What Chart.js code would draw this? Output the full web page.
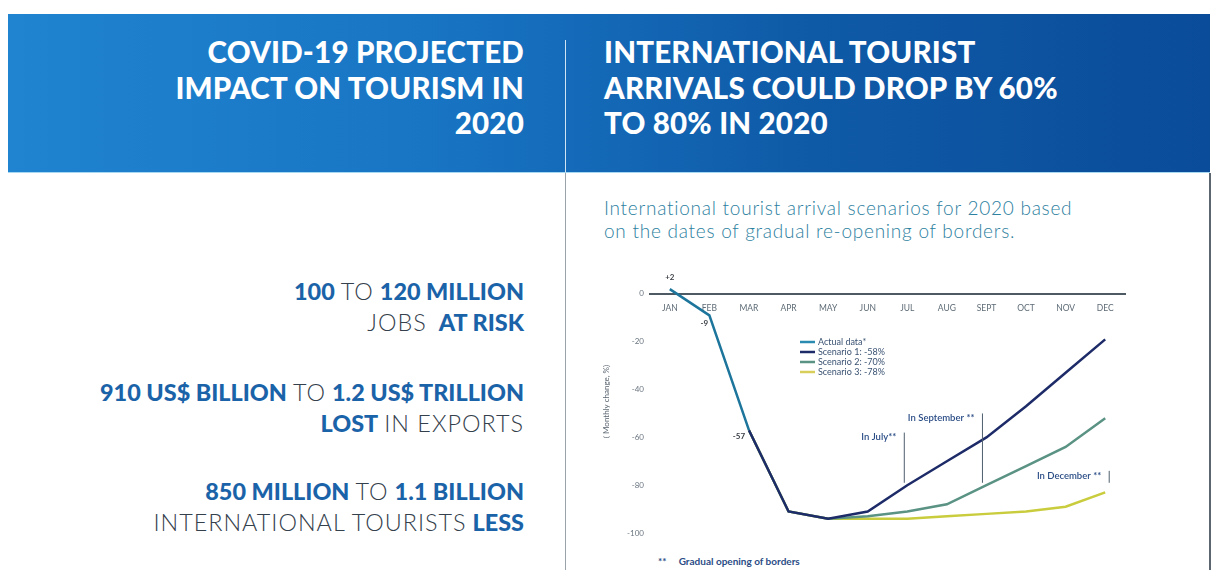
<!DOCTYPE html>
<html><head><meta charset="utf-8">
<script src="https://cdn.jsdelivr.net/npm/chart.js@4.4.1/dist/chart.umd.min.js"></script>
<style>
html,body{margin:0;padding:0;background:#fff;width:1212px;height:570px;overflow:hidden;font-family:Lato,'Open Sans',sans-serif;}
#header{position:absolute;left:8px;top:14px;width:1202px;height:158px;background:linear-gradient(90deg,#2084d0 0%,#1875c4 35%,#0f5ba8 65%,#0a4c99 100%);border-bottom:1px solid #a6d8f2;}
.ht{position:absolute;top:34px;color:#fff;font-weight:900;font-size:29.5px;line-height:35.5px;letter-spacing:0.2px;white-space:nowrap;}
#hl{right:688px;text-align:right;}
#hr{left:604px;text-align:left;}
#divh{position:absolute;left:565px;top:40px;width:1px;height:132px;background:#cfe3f3;}
#divb{position:absolute;left:565px;top:173px;width:1px;height:397px;background:#9aa3aa;}
#rb{position:absolute;left:1209px;top:173px;width:2px;height:397px;background:#5c6670;}
#sub{position:absolute;left:604px;top:196px;color:#2c80a0;font-weight:300;font-size:19px;line-height:23px;letter-spacing:0.75px;white-space:nowrap;}
.st{position:absolute;right:688px;text-align:right;font-size:23.4px;line-height:31px;white-space:nowrap;}
.b{font-weight:900;color:#1b63a8;}
.r{font-weight:300;color:#34404c;letter-spacing:1px;}
#foot{position:absolute;left:658px;top:555px;font-size:10px;font-weight:700;color:#2b4c86;white-space:nowrap;}
#wrap{position:absolute;left:0;top:0;width:1212px;height:570px;}
</style></head>
<body>
<div id="header"></div>
<div id="divh"></div><div id="divb"></div><div id="rb"></div>
<div class="ht" id="hl">COVID-19 PROJECTED<br>IMPACT ON TOURISM IN<br>2020</div>
<div class="ht" id="hr">INTERNATIONAL TOURIST<br>ARRIVALS COULD DROP BY 60%<br>TO 80% IN 2020</div>
<div id="sub">International tourist arrival scenarios for 2020 based<br>on the dates of gradual re-opening of borders.</div>
<div class="st" style="top:276px"><span class="b">100</span> <span class="r">TO</span> <span class="b">120 MILLION</span><br><span class="r">JOBS</span>&nbsp; <span class="b">AT RISK</span></div>
<div class="st" style="top:377px"><span class="b">910 US$ BILLION</span> <span class="r">TO</span> <span class="b">1.2 US$ TRILLION</span><br><span class="b">LOST</span> <span class="r">IN EXPORTS</span></div>
<div class="st" style="top:476px"><span class="b">850 MILLION</span> <span class="r">TO</span> <span class="b">1.1 BILLION</span><br><span class="r">INTERNATIONAL TOURISTS</span> <span class="b">LESS</span></div>
<div id="foot">**&nbsp;&nbsp;&nbsp;&nbsp; Gradual opening of borders</div>
<div id="wrap"><canvas id="c"></canvas></div>
<script>
const months = ['JAN','FEB','MAR','APR','MAY','JUN','JUL','AUG','SEPT','OCT','NOV','DEC'];
const actualData = [2, -9, -57, null, null, null, null, null, null, null, null, null];
const scenario1 = [null, null, -57, -91, -94, -91, -80, -70, -60, -47, -33, -19];
const scenario2 = [null, null, -57, -91, -94, -93, -91, -88, -80, -72, -64, -52];
const scenario3 = [null, null, -57, -91, -94, -94, -94, -93, -92, -91, -89, -83];
const seriesNames = ['Actual data*', 'Scenario 1: -58%', 'Scenario 2: -70%', 'Scenario 3: -78%'];
const seriesColors = ['#1d759c', '#1d2b68', '#5a9283', '#c9cc3c'];
const legendColors = ['#2a8ab0', '#1d2b68', '#5a9283', '#d8cf5a'];
const yTicks = [0, -20, -40, -60, -80, -100];
const pointLabels = [{i:0, text:'+2'}, {i:1, text:'-9'}, {i:2, text:'-57'}];
const reopenings = [
  {i:6, text:'In July**', top:-58, bottom:-79, textY:-60},
  {i:8, text:'In September **', top:-50, bottom:-79, textY:-52},
  {i:11, text:'In December **', top:-74, bottom:-79, textY:-76}
];

const extras = {
  id: 'extras',
  afterDatasetsDraw(chart) {
    const ctx = chart.ctx, x = chart.scales.x, y = chart.scales.y;
    ctx.save();
    ctx.font = 'bold 8px Lato, sans-serif';
    ctx.fillStyle = '#3a3f45';
    ctx.textAlign = 'center'; ctx.textBaseline = 'middle';
    pointLabels.forEach(p => {
      const px = x.getPixelForValue(p.i), py = y.getPixelForValue(actualData[p.i]);
      if (p.i === 0) ctx.fillText(p.text, px, py - 12);
      else if (p.i === 1) ctx.fillText(p.text, px - 5, py + 8);
      else ctx.fillText(p.text, px - 10, py + 6);
    });
    ctx.strokeStyle = '#4e5f6e'; ctx.lineWidth = 1;
    ctx.font = '600 9.5px Lato, sans-serif';
    ctx.fillStyle = '#2b4d86';
    ctx.textAlign = 'right';
    const offs = {6:-3, 8:-4, 11:4};
    reopenings.forEach(r => {
      const px = x.getPixelForValue(r.i) + offs[r.i];
      ctx.beginPath();
      ctx.moveTo(px, y.getPixelForValue(r.top));
      ctx.lineTo(px, y.getPixelForValue(r.bottom));
      ctx.stroke();
      ctx.fillText(r.text, px - 8, y.getPixelForValue(r.textY));
    });
    const lx = 800, ly = 342;
    ctx.font = '9px Lato, sans-serif';
    ctx.textAlign = 'left';
    seriesNames.forEach((n, k) => {
      ctx.strokeStyle = legendColors[k]; ctx.lineWidth = 2.5;
      ctx.beginPath(); ctx.moveTo(lx, ly + k*10); ctx.lineTo(lx + 15, ly + k*10); ctx.stroke();
      ctx.fillStyle = '#3a5272';
      ctx.fillText(n, lx + 18, ly + k*10);
    });
    ctx.restore();
  }
};

const mk = (k, data) => ({label: seriesNames[k], data, borderColor: seriesColors[k], backgroundColor: seriesColors[k],
  borderWidth: 2.5, pointRadius: 0, tension: 0, spanGaps: false, fill: false});

new Chart(document.getElementById('c'), {
  type: 'line',
  data: {labels: months, datasets: [mk(0, actualData), mk(1, scenario1), mk(2, scenario2), mk(3, scenario3)]},
  options: {
    responsive: true, maintainAspectRatio: false, animation: false,
    layout: {padding: {left: 602, right: 87, top: 270, bottom: 37}},
    plugins: {legend: {display: false}, tooltip: {enabled: false}},
    scales: {
      x: {type: 'category', position: {y: 0}, offset: true,
          grid: {display: false, drawTicks: false},
          border: {display: true, color: '#4d5a63', width: 2},
          ticks: {color: '#5e6b76', font: {size: 8.5, family: 'Lato'}, padding: 9, maxRotation: 0, autoSkip: false}},
      y: {min: -100, max: 10,
          afterBuildTicks: s => { s.ticks = yTicks.map(v => ({value: v})); },
          afterFit: s => { s.width = 48; },
          grid: {display: false, drawTicks: false},
          border: {display: false},
          title: {display: true, text: '( Monthly change, %)', color: '#5a6570', font: {size: 8, family: 'Lato'}, padding: {top: 0, bottom: 0}},
          ticks: {color: '#6b7680', font: {size: 8, family: 'Lato'}, padding: 6}}
    }
  },
  plugins: [extras]
});
</script>
</body></html>
